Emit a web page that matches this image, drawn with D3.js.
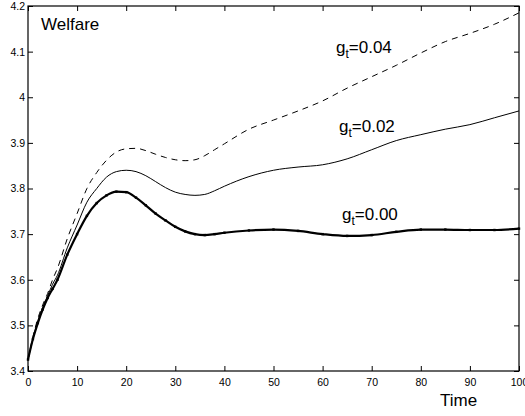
<!DOCTYPE html>
<html>
<head>
<meta charset="utf-8">
<script src="https://cdn.jsdelivr.net/npm/d3@7"></script>
<style>
  html, body { margin: 0; padding: 0; background: #fff; }
  svg { display: block; }
  text { font-family: "Liberation Sans", Arial, sans-serif; fill: #000; }
</style>
</head>
<body>
<svg id="chart" width="525" height="416"></svg>
<script>
// Time grid shared by all three welfare paths
const time = [0,1,2,3,4,5,6,8,10,12,14,16,18,20,22,24,26,28,30,32,34,36,38,40,45,50,55,60,65,70,75,80,85,90,95,100];

// Welfare path for g_t = 0.00
const welfare000 = [3.425,3.47,3.505,3.535,3.56,3.58,3.60,3.655,3.70,3.74,3.768,3.785,3.793,3.792,3.78,3.763,3.745,3.73,3.716,3.706,3.700,3.698,3.700,3.703,3.708,3.710,3.707,3.700,3.696,3.698,3.705,3.710,3.710,3.709,3.709,3.712];
// Welfare path for g_t = 0.02
const welfare002 = [3.425,3.47,3.51,3.54,3.565,3.59,3.61,3.67,3.72,3.77,3.80,3.825,3.837,3.840,3.837,3.828,3.815,3.802,3.792,3.787,3.785,3.787,3.795,3.805,3.826,3.840,3.847,3.852,3.865,3.885,3.905,3.918,3.930,3.940,3.955,3.970];
// Welfare path for g_t = 0.04
const welfare004 = [3.425,3.475,3.515,3.545,3.57,3.60,3.625,3.69,3.745,3.80,3.835,3.862,3.880,3.887,3.888,3.883,3.875,3.868,3.863,3.861,3.863,3.872,3.885,3.898,3.930,3.950,3.970,3.992,4.020,4.045,4.070,4.097,4.122,4.140,4.160,4.185];

const xTicks = [0,10,20,30,40,50,60,70,80,90,100];
const yTicks = [3.4,3.5,3.6,3.7,3.8,3.9,4.0,4.1,4.2];
const yTickLabels = ["3.4","3.5","3.6","3.7","3.8","3.9","4","4.1","4.2"];

const svg = d3.select("#chart");
const plotLeft = 28, plotRight = 519, plotTop = 6, plotBottom = 371;

const x = d3.scaleLinear().domain([0, 100]).range([plotLeft, plotRight]);
const y = d3.scaleLinear().domain([3.4, 4.2]).range([plotBottom, plotTop]);

// Axes: ticks point inward, mirrored on the opposite sides
const tickLen = 5;
const fontFam = "Liberation Sans, Arial, sans-serif";
svg.append("g").attr("transform", `translate(0,${plotBottom})`)
  .call(d3.axisBottom(x).tickValues(xTicks).tickSize(-tickLen).tickPadding(8).tickFormat(d3.format("d")))
  .call(g => { g.select(".domain").remove(); g.selectAll("text").attr("font-size", 10.5).attr("font-family", fontFam); });
svg.append("g").attr("transform", `translate(0,${plotTop})`)
  .call(d3.axisTop(x).tickValues(xTicks).tickSize(-tickLen).tickFormat(""))
  .call(g => g.select(".domain").remove());
svg.append("g").attr("transform", `translate(${plotLeft},0)`)
  .call(d3.axisLeft(y).tickValues(yTicks).tickSize(-tickLen).tickPadding(3).tickFormat((d, i) => yTickLabels[i]))
  .call(g => { g.select(".domain").remove(); g.selectAll("text").attr("font-size", 10.5).attr("font-family", fontFam); });
svg.append("g").attr("transform", `translate(${plotRight},0)`)
  .call(d3.axisRight(y).tickValues(yTicks).tickSize(-tickLen).tickFormat(""))
  .call(g => g.select(".domain").remove());

svg.selectAll(".tick line").attr("stroke", "#000");

svg.append("rect")
  .attr("x", plotLeft).attr("y", plotTop)
  .attr("width", plotRight - plotLeft).attr("height", plotBottom - plotTop)
  .attr("fill", "none").attr("stroke", "#000").attr("stroke-width", 1.2);

// Curves
const line = vals => d3.line()
  .x((d, i) => x(time[i]))
  .y(d => y(d))
  .curve(d3.curveMonotoneX)(vals);

svg.append("path").attr("d", line(welfare004))
  .attr("fill", "none").attr("stroke", "#000").attr("stroke-width", 1)
  .attr("stroke-dasharray", "6,5");
svg.append("path").attr("d", line(welfare002))
  .attr("fill", "none").attr("stroke", "#000").attr("stroke-width", 1);
svg.append("path").attr("d", line(welfare000))
  .attr("fill", "none").attr("stroke", "#000").attr("stroke-width", 2.2);
// small point markers on the g_t = 0.00 path
svg.append("g").selectAll("rect").data(welfare000).join("rect")
  .attr("x", (d, i) => x(time[i]) - 1.2)
  .attr("y", d => y(d) - 1.2)
  .attr("width", 2.4).attr("height", 2.4)
  .attr("fill", "#000");

// Text labels
svg.append("text").attr("x", 41).attr("y", 30).attr("font-size", 17).text("Welfare");
svg.append("text").attr("x", 440).attr("y", 406).attr("font-size", 17).text("Time");

function gLabel(px, py, value) {
  const t = svg.append("text").attr("x", px).attr("y", py).attr("font-size", 17);
  t.append("tspan").text("g");
  t.append("tspan").attr("font-size", 12).attr("dy", 5).text("t");
  t.append("tspan").attr("dy", -5).text("=" + value);
}
gLabel(336, 53, "0.04");
gLabel(339, 132, "0.02");
gLabel(342, 220, "0.00");
</script>
</body>
</html>
